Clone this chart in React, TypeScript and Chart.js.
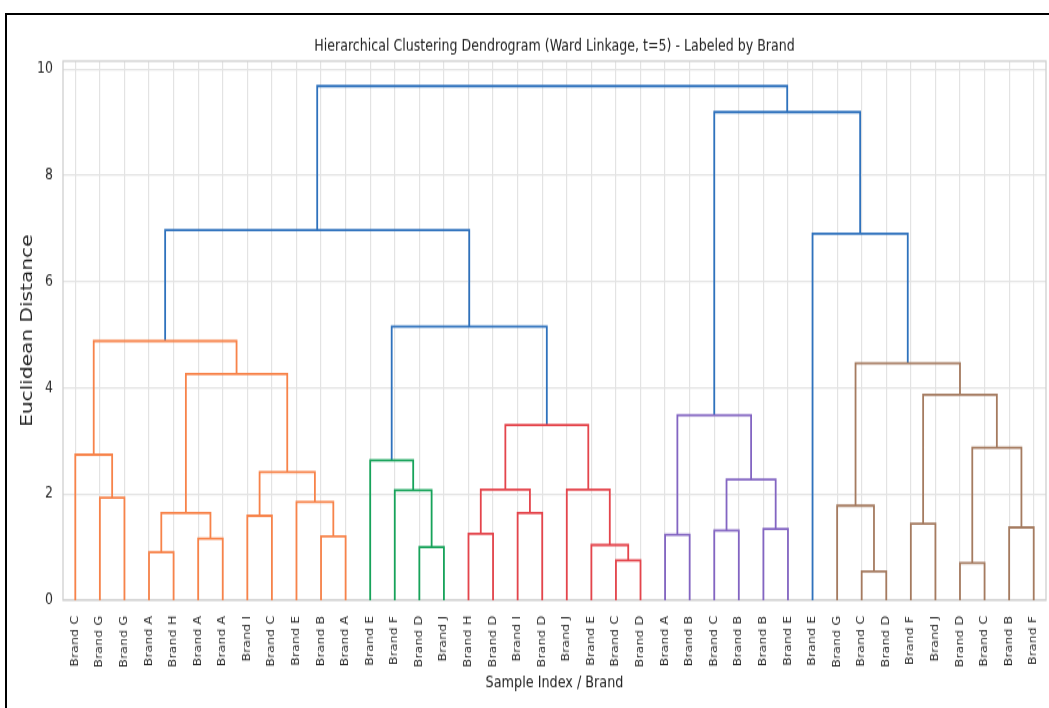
import React, { useEffect, useRef } from 'react';
import { Chart, registerables } from 'chart.js';

Chart.register(...registerables);

// ---------- data ----------
const leafLabels: string[] = [
  'Brand C', 'Brand G', 'Brand G', 'Brand A', 'Brand H', 'Brand A', 'Brand A', 'Brand I',
  'Brand C', 'Brand E', 'Brand B', 'Brand A', 'Brand E', 'Brand F', 'Brand D', 'Brand J',
  'Brand H', 'Brand D', 'Brand I', 'Brand D', 'Brand J', 'Brand E', 'Brand C', 'Brand D',
  'Brand A', 'Brand B', 'Brand C', 'Brand B', 'Brand B', 'Brand E', 'Brand E', 'Brand G',
  'Brand C', 'Brand D', 'Brand F', 'Brand J', 'Brand D', 'Brand C', 'Brand B', 'Brand F',
];

// merges: children are leaf indices (0..39) or earlier merges (40 + merge index)
const mergePairs: [number, number][] = [
  [1, 2], [0, 40], [3, 4], [5, 6], [42, 43], [7, 8], [10, 11], [9, 46], [45, 47], [44, 48], [41, 49],
  [14, 15], [13, 51], [12, 52],
  [16, 17], [18, 19], [54, 55], [22, 23], [21, 57], [20, 58], [56, 59],
  [53, 60], [50, 61],
  [24, 25], [26, 27], [28, 29], [64, 65], [63, 66],
  [32, 33], [31, 68], [34, 35], [36, 37], [38, 39], [71, 72], [70, 73], [69, 74],
  [30, 75], [67, 76], [62, 77],
];

const mergeHeights: number[] = [
  1.93, 2.74, 0.90, 1.16, 1.64, 1.59, 1.20, 1.85, 2.41, 4.26, 4.88,
  1.00, 2.07, 2.63,
  1.25, 1.64, 2.08, 0.75, 1.04, 2.08, 3.30,
  5.15, 6.97,
  1.23, 1.31, 1.34, 2.27, 3.48,
  0.54, 1.78, 1.44, 0.70, 1.37, 2.87, 3.87, 4.46,
  6.90, 9.19, 9.68,
];

const mergeColorKeys: string[] = [
  'C1', 'C1', 'C1', 'C1', 'C1', 'C1', 'C1', 'C1', 'C1', 'C1', 'C1',
  'C2', 'C2', 'C2',
  'C3', 'C3', 'C3', 'C3', 'C3', 'C3', 'C3',
  'C0', 'C0',
  'C4', 'C4', 'C4', 'C4', 'C4',
  'C5', 'C5', 'C5', 'C5', 'C5', 'C5', 'C5', 'C5',
  'C0', 'C0', 'C0',
];

const palette: Record<string, string> = {
  C0: '#2f72bd',
  C1: '#f7834a',
  C2: '#17a35a',
  C3: '#e4454c',
  C4: '#8365c2',
  C5: '#a57b60',
};

const yTickValues: number[] = [0, 2, 4, 6, 8, 10];

const titleText = 'Hierarchical Clustering Dendrogram (Ward Linkage, t=5) - Labeled by Brand';
const xTitle = 'Sample Index / Brand';
const yTitle = 'Euclidean Distance';

// ---------- layout ----------
const W = 1049;
const H = 708;
const STRETCH = 1.3;
const CH = Math.round(H / STRETCH);
const FONT = "'DejaVu Sans', Verdana, sans-serif";

function buildDatasets() {
  const n = leafLabels.length;
  const nodeX: number[] = leafLabels.map((_, i) => 5 + 10 * i);
  const nodeH: number[] = leafLabels.map(() => 0);
  const datasets: any[] = [];
  mergePairs.forEach(([a, b], k) => {
    const h = mergeHeights[k];
    const xa = nodeX[a];
    const xb = nodeX[b];
    datasets.push({
      data: [
        { x: xa, y: nodeH[a] },
        { x: xa, y: h },
        { x: xb, y: h },
        { x: xb, y: nodeH[b] },
      ],
      borderColor: palette[mergeColorKeys[k]],
      backgroundColor: palette[mergeColorKeys[k]],
      borderWidth: 1.8,
      pointRadius: 0,
      showLine: true,
      fill: false,
      tension: 0,
    });
    nodeX[n + k] = (xa + xb) / 2;
    nodeH[n + k] = h;
  });
  return datasets;
}

const framePlugin = {
  id: 'frame',
  beforeDatasetsDraw(chart: any) {
    const { ctx, chartArea } = chart;
    ctx.save();
    ctx.strokeStyle = '#d0d0d0';
    ctx.lineWidth = 1.3;
    ctx.strokeRect(chartArea.left, chartArea.top, chartArea.right - chartArea.left, chartArea.bottom - chartArea.top);
    ctx.restore();
  },
};

export default function App() {
  const ref = useRef<HTMLCanvasElement | null>(null);

  useEffect(() => {
    if (!ref.current) return;
    const leafX = leafLabels.map((_, i) => 5 + 10 * i);
    const chart = new Chart(ref.current, {
      type: 'scatter',
      data: { datasets: buildDatasets() },
      plugins: [framePlugin],
      options: {
        responsive: false,
        animation: false,
        devicePixelRatio: 1,
        layout: { padding: { top: 27.8, left: 0, right: 3, bottom: 0 } },
        plugins: {
          legend: { display: false },
          tooltip: { enabled: false },
          title: {
            display: true,
            fullSize: false,
            text: titleText,
            color: '#222',
            font: { family: FONT, size: 12.6, weight: 'normal' },
            padding: { top: 0, bottom: 4.1 },
          },
        },
        scales: {
          x: {
            type: 'linear',
            min: 0,
            max: 400,
            afterBuildTicks: (s: any) => {
              s.ticks = leafX.map((v) => ({ value: v }));
            },
            afterFit: (s: any) => {
              s.height = CH - 462;
              s.paddingLeft = 0;
              s.paddingRight = 0;
            },
            ticks: {
              autoSkip: false,
              minRotation: 90,
              maxRotation: 90,
              padding: 12,
              color: '#2a2a2a',
              font: { family: FONT, size: 9.8 },
              callback: (_v: any, i: number) => leafLabels[i],
            },
            grid: { color: '#e3e3e3', lineWidth: 1.2, drawTicks: false },
            border: { display: false },
            title: {
              display: true,
              text: xTitle,
              color: '#222',
              font: { family: FONT, size: 12.8 },
              padding: { top: 0, bottom: 11.5 },
            },
          },
          y: {
            type: 'linear',
            min: 0,
            max: 10.15,
            afterBuildTicks: (s: any) => {
              s.ticks = yTickValues.map((v) => ({ value: v }));
            },
            afterFit: (s: any) => {
              s.width = 63;
              s.paddingTop = 0;
              s.paddingBottom = 0;
            },
            ticks: {
              padding: 10,
              color: '#2a2a2a',
              font: { family: FONT, size: 12.5 },
            },
            grid: { color: '#e3e3e3', lineWidth: 1.2, drawTicks: false },
            border: { display: false },
            title: {
              display: true,
              text: yTitle,
              color: '#222',
              font: { family: FONT, size: 15.5 },
              padding: { top: 19, bottom: 0 },
            },
          },
        },
      } as any,
    });
    return () => chart.destroy();
  }, []);

  return (
    <>
      <canvas
        ref={ref}
        width={W}
        height={CH}
        style={{ position: 'absolute', left: 0, top: 0, width: W + 'px', height: H + 'px' }}
      />
      <div
        style={{
          position: 'absolute',
          left: 5,
          top: 13,
          width: W - 7,
          height: H - 15,
          borderTop: '2px solid #000',
          borderLeft: '2px solid #000',
          pointerEvents: 'none',
        }}
      />
    </>
  );
}
